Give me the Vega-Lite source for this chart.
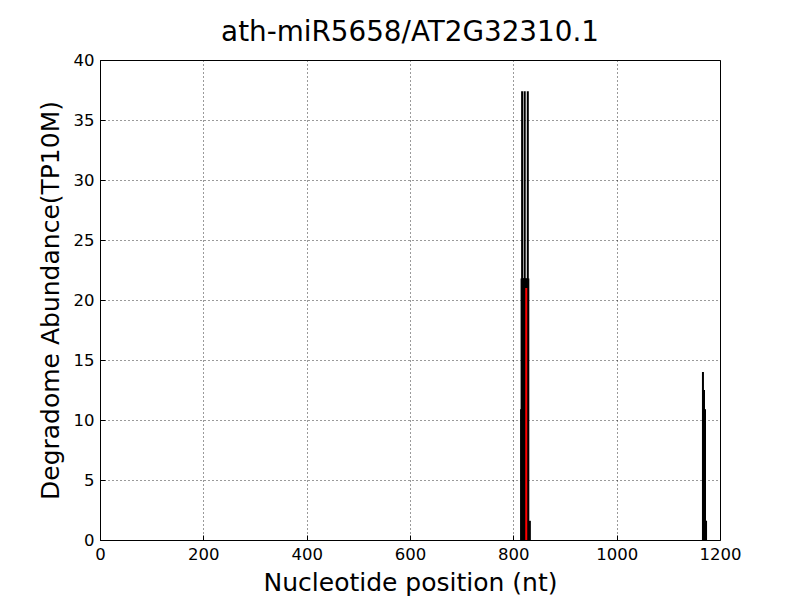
{
  "$schema": "https://vega.github.io/schema/vega-lite/v6.json",
  "width": 620,
  "height": 480,
  "autosize": "none",
  "padding": {"left": 100, "top": 60, "right": 80, "bottom": 60},
  "background": "white",
  "title": {"text": "ath-miR5658/AT2G32310.1", "font": "DejaVu Sans", "fontSize": 27.8, "fontWeight": "normal", "color": "black", "offset": 5},
  "config": {
    "view": {"stroke": "black", "strokeWidth": 1},
    "axis": {"labelFont": "DejaVu Sans", "titleFont": "DejaVu Sans", "labelFontSize": 16.5, "titleFontSize": 25, "titleFontWeight": "normal", "labelColor": "black", "titleColor": "black", "domain": false, "grid": true, "gridColor": "black", "gridDash": [1, 3], "gridOpacity": 1, "gridWidth": 0.8, "ticks": true, "tickColor": "black", "tickSize": -5, "labelFlush": false, "format": "d"}
  },
  "data": {
    "values": [
      {"pos": 815, "value": 10.9, "site": "other"},
      {"pos": 816, "value": 21.8, "site": "other"},
      {"pos": 817, "value": 37.4, "site": "other"},
      {"pos": 818, "value": 21.8, "site": "other"},
      {"pos": 819, "value": 21.8, "site": "other"},
      {"pos": 820, "value": 21.8, "site": "other"},
      {"pos": 821, "value": 21.8, "site": "other"},
      {"pos": 822, "value": 37.4, "site": "other"},
      {"pos": 823, "value": 21.8, "site": "other"},
      {"pos": 824, "value": 21.8, "site": "other"},
      {"pos": 826, "value": 21.8, "site": "other"},
      {"pos": 827, "value": 21.8, "site": "other"},
      {"pos": 828, "value": 37.4, "site": "other"},
      {"pos": 829, "value": 21.8, "site": "other"},
      {"pos": 832, "value": 1.6, "site": "other"},
      {"pos": 1167, "value": 14.0, "site": "other"},
      {"pos": 1169, "value": 12.5, "site": "other"},
      {"pos": 1171, "value": 10.9, "site": "other"},
      {"pos": 1172, "value": 1.6, "site": "other"},
      {"pos": 1173, "value": 1.6, "site": "other"},
      {"pos": 825, "value": 21.0, "site": "target"}
    ]
  },
  "mark": {"type": "rule", "strokeWidth": 2},
  "encoding": {
    "x": {"field": "pos", "type": "quantitative", "scale": {"domain": [0, 1200], "nice": false}, "axis": {"values": [0, 200, 400, 600, 800, 1000, 1200], "title": "Nucleotide position (nt)", "titlePadding": 8, "labelPadding": 11}},
    "y": {"field": "value", "type": "quantitative", "scale": {"domain": [0, 40], "nice": false}, "axis": {"values": [0, 5, 10, 15, 20, 25, 30, 35, 40], "title": "Degradome Abundance(TP10M)", "titlePadding": 10, "labelPadding": 11}},
    "y2": {"datum": 0},
    "color": {"field": "site", "type": "nominal", "scale": {"domain": ["other", "target"], "range": ["black", "red"]}, "legend": null}
  }
}
